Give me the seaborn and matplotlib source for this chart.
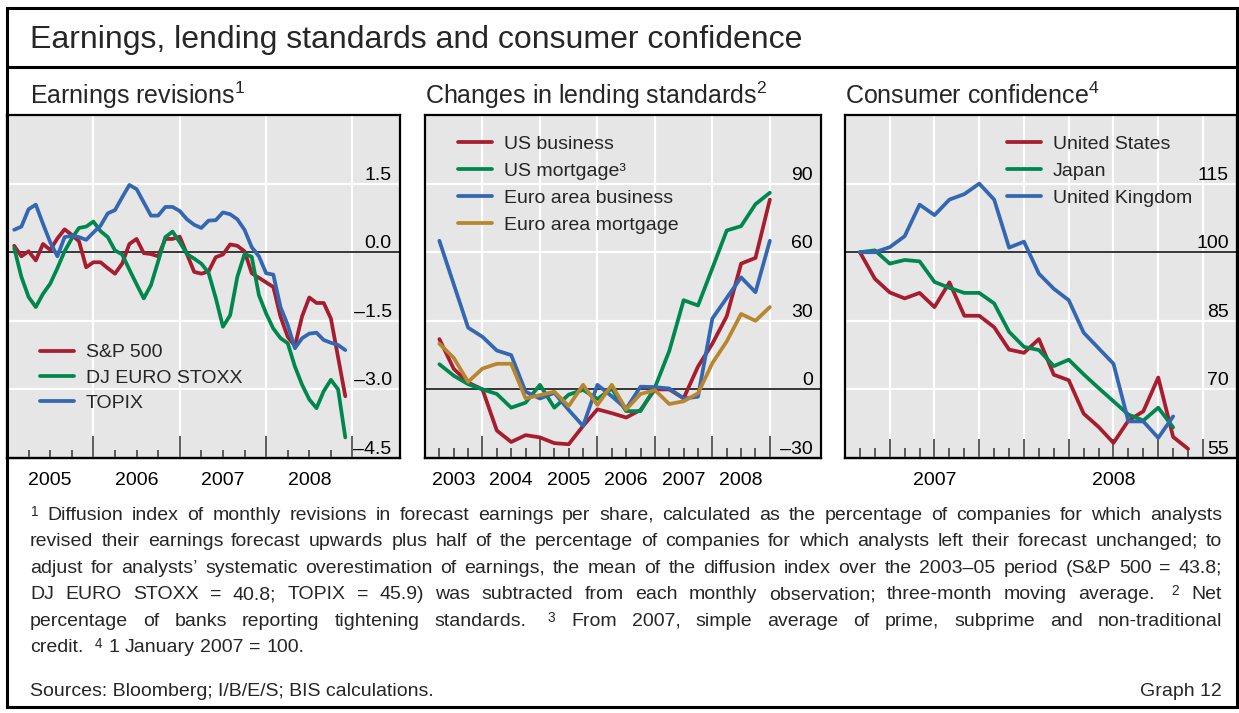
import matplotlib
matplotlib.use("Agg")
import matplotlib.pyplot as plt
from matplotlib import ticker
from matplotlib.patches import Rectangle
from matplotlib.lines import Line2D
import numpy as np
import pandas as pd
import seaborn as sns

sns.set_theme(style="white")
plt.rcParams['font.family'] = ['Liberation Sans', 'DejaVu Sans']
plt.rcParams['mathtext.fontset'] = 'custom'
plt.rcParams['mathtext.rm'] = 'Liberation Sans'
plt.rcParams['mathtext.it'] = 'Liberation Sans:italic'
plt.rcParams['mathtext.bf'] = 'Liberation Sans:bold'

W, H = 1239, 713
FS = 14
RED, GREEN, BLUE, GOLD = '#a71c2f', '#00874f', '#3467b2', '#b8862e'
PANEL_BG = '#e6e6e6'
LW = 2.7

# ---- Earnings revisions (monthly, Jan 2005 - Nov 2008)
earn_months = pd.period_range('2005-01', periods=47, freq='M')
sp500 = [0.14, -0.09, 0.02, -0.18, 0.18, 0.05, 0.30, 0.50, 0.38, 0.24,
         -0.33, -0.22, -0.22, -0.35, -0.47, -0.25, 0.18, 0.29, -0.02, -0.04,
         -0.09, 0.29, 0.29, 0.34, -0.04, -0.43, -0.47, -0.42, -0.11, -0.05,
         0.17, 0.14, 0.02, -0.46, -0.56, -0.66, -0.76, -1.41, -1.85, -2.05,
         -1.40, -0.99, -1.11, -1.11, -1.45, -2.30, -3.15]
euro_stoxx = [0.09, -0.54, -0.98, -1.20, -0.91, -0.69, -0.35, 0.02, 0.30, 0.53,
              0.56, 0.67, 0.46, 0.33, 0.04, -0.05, -0.38, -0.70, -1.01, -0.72,
              -0.20, 0.33, 0.45, 0.22, -0.04, -0.14, -0.25, -0.45, -1.00, -1.63,
              -1.38, -0.54, -0.04, -0.10, -0.94, -1.34, -1.67, -1.88, -1.99, -2.50,
              -2.90, -3.22, -3.41, -3.04, -2.79, -3.00, -4.05]
topix = [0.49, 0.56, 0.94, 1.04, 0.62, 0.22, -0.09, 0.33, 0.36, 0.33,
         0.27, 0.43, 0.58, 0.85, 0.92, 1.20, 1.47, 1.38, 1.09, 0.80,
         0.80, 0.99, 0.99, 0.90, 0.72, 0.60, 0.53, 0.69, 0.70, 0.87,
         0.83, 0.72, 0.49, 0.11, -0.09, -0.46, -0.49, -1.20, -1.59, -2.10,
         -1.88, -1.78, -1.76, -1.92, -1.98, -2.03, -2.14]

# ---- Lending standards (quarterly, 2003Q1 - 2008Q4)
lend_quarters = pd.period_range('2003Q1', periods=24, freq='Q')
us_business = [22, 9, 3, 0, -18, -23, -20, -21, -23.5, -24, -16, -8.7,
               -10.4, -12.3, -9, 0, 0, -3.9, 10, 20, 32, 55, 57.5, 83]
us_mortgage = [11, 6, 2.3, 0, -2, -8, -5.8, 2, -8, -2.3, -0.2, -4.2,
               0.4, -9.5, -9.5, 0.8, 16.8, 39, 36.7, 53, 69.5, 71.4, 81, 86]
euro_business = [65, 46, 27, 23, 17, 15, -1, -4, -1.5, -9, -16, 2,
                 -3, -8.5, 1.2, 1, 0.4, -4, -3.2, 31, 40, 49, 42.5, 65]
euro_mortgage = [20, 13.8, 3.3, 9.1, 11.2, 11.2, -3.9, -2.5, -1, -7.3, 2, -6.8,
                 2, -8.8, -2, -0.3, -6.4, -5.2, -1.7, 11.5, 21, 33, 30, 36]

# ---- Consumer confidence (monthly, 1 Jan 2007 = 100)
conf_months = pd.period_range('2007-01', periods=23, freq='M')
us_conf = [100, 94.2, 91.2, 89.9, 91.1, 88, 93.4, 86.1, 86.1, 83.6, 78.7, 78,
           81, 73.2, 72, 64.7, 61.8, 58.3, 63.2, 65.2, 72.6, 59.6, 57]
japan_conf = [100, 100.4, 97.5, 98.3, 98, 93.5, 92.2, 91.1, 91.1, 88.8, 82.6,
              79.3, 78.6, 75.1, 76.5, 73.3, 70.3, 67.4, 64.5, 63.2, 66, 61.7]
uk_conf = [100, 100, 101.1, 103.5, 110.4, 108.1, 111.5, 112.7, 115, 111.5, 101,
           102.3, 95.3, 92, 89.5, 82.4, 79, 75.6, 63, 63, 59.4, 64.1]


def month_end(p):
    return np.asarray(p.year + p.month / 12.0, dtype=float)


def quarter_end(p):
    return np.asarray(p.year + p.quarter / 4.0, dtype=float)


def px_axes(fig, x0, y0, x1, y1):
    return fig.add_axes([x0 / W, 1 - y1 / H, (x1 - x0) / W, (y1 - y0) / H])


def dash_fmt(dec):
    return ticker.FuncFormatter(lambda v, p: f"{v:.{dec}f}".replace('-', '\u2013'))


def base_style(ax, xlim, ylim, yticks, dec, ref):
    ax.set_facecolor(PANEL_BG)
    ax.set_xlim(*xlim)
    ax.set_ylim(*ylim)
    ax.set(xlabel='', ylabel='')
    for s in ax.spines.values():
        s.set_color('black')
        s.set_linewidth(1.6)
    ax.yaxis.tick_right()
    ax.set_yticks(yticks)
    ax.yaxis.set_major_formatter(dash_fmt(dec))
    ax.tick_params(axis='y', which='both', length=0, pad=-6, labelsize=FS,
                   labelright=True, labelleft=False, labelcolor='black')
    for lab in ax.get_yticklabels():
        lab.set_horizontalalignment('right')
        lab.set_verticalalignment('bottom')
    ax.grid(axis='y', color='white', lw=1.6)
    ax.axhline(ref, color='black', lw=1.1)
    ax.tick_params(axis='x', which='both', bottom=True, direction='in',
                   color='#333333', width=1.1, labelbottom=False)


def year_labels(ax, years, long_ticks=None, long_len=0):
    sec = ax.secondary_xaxis('bottom')
    sec.spines['bottom'].set_color('black')
    sec.spines['bottom'].set_linewidth(1.6)
    mids = [y + 0.5 for y in years]
    if long_ticks is None:
        sec.xaxis.set_major_locator(ticker.FixedLocator(mids))
        sec.xaxis.set_major_formatter(ticker.FixedFormatter([str(y) for y in years]))
        sec.tick_params(axis='x', which='major', length=0, pad=10, labelsize=FS,
                        labelcolor='black')
    else:
        sec.xaxis.set_major_locator(ticker.FixedLocator(long_ticks))
        sec.xaxis.set_major_formatter(ticker.NullFormatter())
        sec.xaxis.set_minor_locator(ticker.FixedLocator(mids))
        sec.xaxis.set_minor_formatter(ticker.FixedFormatter([str(y) for y in years]))
        sec.tick_params(axis='x', which='major', bottom=True, direction='in',
                        length=long_len, width=1.1, color='#333333')
        sec.tick_params(axis='x', which='minor', bottom=True, length=0, pad=10,
                        labelsize=FS, labelcolor='black')
    return sec


def add_legend(ax, anchor, spacing=0.42):
    ax.legend(loc='upper left', bbox_to_anchor=anchor, frameon=False, fontsize=FS,
              handlelength=1.75, handletextpad=0.6, labelspacing=spacing,
              borderpad=0, borderaxespad=0)


fig = plt.figure(figsize=(W / 100, H / 100), dpi=100)
fig.patch.set_facecolor('white')

# ---------- Panel 1: earnings revisions
ax1 = px_axes(fig, 7, 115, 400, 458)
base_style(ax1, (2005, 2009.55), (-4.5, 3.0), [-4.5, -3.0, -1.5, 0.0, 1.5], 1, 0)
xe = month_end(earn_months)
sns.lineplot(x=xe, y=sp500, ax=ax1, color=RED, lw=LW, label='S&P 500')
sns.lineplot(x=xe, y=euro_stoxx, ax=ax1, color=GREEN, lw=LW, label='DJ EURO STOXX')
sns.lineplot(x=xe, y=topix, ax=ax1, color=BLUE, lw=LW, label='TOPIX')
ax1.xaxis.set_major_locator(ticker.FixedLocator([2006, 2007, 2008, 2009]))
ax1.xaxis.set_minor_locator(ticker.FixedLocator(np.arange(2005.25, 2009, 0.25)))
ax1.tick_params(axis='x', which='major', length=16)
ax1.tick_params(axis='x', which='minor', length=6)
ax1.grid(axis='x', which='major', color='white', lw=1.6)
year_labels(ax1, [2005, 2006, 2007, 2008])
add_legend(ax1, (0.084, 0.333), 0.40)

# ---------- Panel 2: lending standards
ax2 = px_axes(fig, 425, 115, 821, 458)
base_style(ax2, (2003, 2009.89), (-30, 120), [-30, 0, 30, 60, 90], 0, 0)
xq = quarter_end(lend_quarters)
sns.lineplot(x=xq, y=us_business, ax=ax2, color=RED, lw=LW, label='US business')
sns.lineplot(x=xq, y=us_mortgage, ax=ax2, color=GREEN, lw=LW, label='US mortgage\u00b3')
sns.lineplot(x=xq, y=euro_business, ax=ax2, color=BLUE, lw=LW, label='Euro area business')
sns.lineplot(x=xq, y=euro_mortgage, ax=ax2, color=GOLD, lw=LW, label='Euro area mortgage')
ax2.xaxis.set_major_locator(ticker.FixedLocator(np.arange(2004, 2010)))
ax2.xaxis.set_minor_locator(ticker.FixedLocator(np.arange(2003.25, 2009, 0.25)))
ax2.tick_params(axis='x', which='major', length=16)
ax2.tick_params(axis='x', which='minor', length=7)
ax2.grid(axis='x', which='major', color='white', lw=1.6)
year_labels(ax2, [2003, 2004, 2005, 2006, 2007, 2008])
add_legend(ax2, (0.083, 0.94), 0.48)

# ---------- Panel 3: consumer confidence
ax3 = px_axes(fig, 845, 115, 1237, 458)
base_style(ax3, (2007, 2009.19), (55, 130), [55, 70, 85, 100, 115], 0, 100)
xc = month_end(conf_months)
sns.lineplot(x=xc, y=us_conf, ax=ax3, color=RED, lw=LW, label='United States')
sns.lineplot(x=xc[:len(japan_conf)], y=japan_conf, ax=ax3, color=GREEN, lw=LW, label='Japan')
sns.lineplot(x=xc[:len(uk_conf)], y=uk_conf, ax=ax3, color=BLUE, lw=LW, label='United Kingdom')
ax3.xaxis.set_major_locator(ticker.FixedLocator(np.arange(2007.25, 2009.01, 0.25)))
ax3.xaxis.set_minor_locator(ticker.FixedLocator(2007 + np.arange(1, 24) / 12.0))
ax3.tick_params(axis='x', which='major', length=14)
ax3.tick_params(axis='x', which='minor', length=7)
ax3.grid(axis='x', which='major', color='white', lw=1.6)
year_labels(ax3, [2007, 2008], long_ticks=[2008, 2009], long_len=24)
add_legend(ax3, (0.413, 0.94), 0.48)

# ---------- frame, titles
fig.add_artist(Rectangle((7 / W, 1 - 707 / H), 1230 / W, 699 / H, transform=fig.transFigure,
                         fill=False, ec='black', lw=2.2))
fig.add_artist(Line2D([7 / W, 1237 / W], [1 - 67 / H] * 2, transform=fig.transFigure,
                      color='black', lw=2.2))
fig.text(30 / W, 1 - 48 / H, 'Earnings, lending standards and consumer confidence',
         fontsize=23, ha='left', va='baseline')
for x0, txt in [(30, 'Earnings revisions$^{1}$'),
                (425, 'Changes in lending standards$^{2}$'),
                (845, 'Consumer confidence$^{4}$')]:
    fig.text(x0 / W, 1 - 104 / H, txt, fontsize=18, ha='left', va='baseline')

# ---------- footnotes (justified)
foot_lines = [
    "^1 Diffusion index of monthly revisions in forecast earnings per share, calculated as the percentage of companies for which analysts",
    "revised their earnings forecast upwards plus half of the percentage of companies for which analysts left their forecast unchanged; to",
    "adjust for analysts\u2019 systematic overestimation of earnings, the mean of the diffusion index over the 2003\u201305 period (S&P 500 = 43.8;",
    "DJ EURO STOXX = 40.8; TOPIX = 45.9) was subtracted from each monthly observation; three-month moving average. ^2 Net",
    "percentage of banks reporting tightening standards. ^3 From 2007, simple average of prime, subprime and non-traditional",
    "credit. ^4 1 January 2007 = 100.",
]
X0, X1 = 30, 1222
renderer = fig.canvas.get_renderer()
space = FS * 100 / 72 * 0.278
for i, line in enumerate(foot_lines):
    y = 520 + i * 26.4
    words = line.split()
    arts = []
    for w in words:
        s = r"$^{\mathrm{%s}}$" % w[1:] if w.startswith('^') else w
        arts.append(fig.text(0, 1 - y / H, s, fontsize=FS, ha='left', va='baseline'))
    widths = [a.get_window_extent(renderer).width for a in arts]
    extra = [space if (w.startswith('^') and k > 0) else 0 for k, w in enumerate(words)]
    if i < len(foot_lines) - 1:
        gap = (X1 - X0 - sum(widths) - sum(extra)) / (len(words) - 1)
    else:
        gap = space
    x = X0
    for a, wd, ex in zip(arts, widths, extra):
        x += ex
        a.set_x(x / W)
        x += wd + gap

fig.text(30 / W, 1 - 696 / H, 'Sources: Bloomberg; I/B/E/S; BIS calculations.',
         fontsize=FS, ha='left', va='baseline')
fig.text(1222 / W, 1 - 696 / H, 'Graph 12', fontsize=FS, ha='right', va='baseline')

fig.savefig('out.png', dpi=100)
